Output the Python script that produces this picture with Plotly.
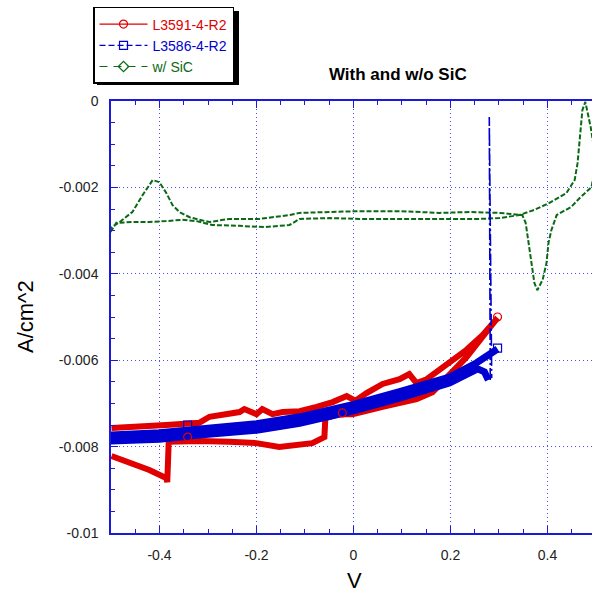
import plotly.graph_objects as go

# ---------------- data ----------------
# L3591-4-R2 (red), one continuous sweep
red_v = [-0.499, -0.462, -0.421, -0.386, -0.384, -0.381,
         -0.318, -0.256, -0.200, -0.153, -0.122, -0.085, -0.060, -0.058,
         -0.029, -0.002, 0.060, 0.130, 0.163, 0.198, 0.233, 0.266, 0.297,
         0.266, 0.233, 0.198, 0.163, 0.151, 0.130, 0.115, 0.095, 0.060, 0.027,
         0.004, -0.014, -0.043, -0.076, -0.111, -0.146, -0.167, -0.188, -0.200,
         -0.225, -0.235, -0.297, -0.318, -0.386, -0.421, -0.499]
red_j = [-0.00822, -0.00838, -0.00854, -0.00873, -0.00882, -0.00789,
         -0.00787, -0.00789, -0.00792, -0.00801, -0.00796, -0.00792, -0.00778, -0.00734,
         -0.00725, -0.00725, -0.00708, -0.00690, -0.00674, -0.00634, -0.00593, -0.00546, -0.00502,
         -0.00542, -0.00576, -0.00606, -0.00637, -0.00644, -0.00653, -0.00632, -0.00644, -0.00655, -0.00676,
         -0.00694, -0.00683, -0.00697, -0.00708, -0.00718, -0.00720, -0.00725, -0.00713, -0.00725,
         -0.00713, -0.00720, -0.00731, -0.00745, -0.00750, -0.00752, -0.00757]
red_mark_v = [-0.342, -0.023, 0.297]
red_mark_j = [-0.00778, -0.00722, -0.00500]

# L3586-4-R2 (blue): spike near 0.28 V, then the sweep band
blue_spike_v = [0.282, 0.280, 0.285]
blue_spike_j = [-0.00646, -0.00037, -0.00641]
blue_v = [0.278, 0.270, 0.256, 0.247,
          0.198, 0.095, -0.002, -0.111, -0.200, -0.318, -0.400, -0.499,
          -0.499, -0.400, -0.318, -0.200, -0.111, -0.002, 0.095, 0.198, 0.254, 0.280, 0.297]
blue_j = [-0.00646, -0.00627, -0.00620, -0.00625,
          -0.00653, -0.00688, -0.00718, -0.00746, -0.00762, -0.00773, -0.00783, -0.00787,
          -0.00773, -0.00768, -0.00759, -0.00747, -0.00731, -0.00703, -0.00673, -0.00639, -0.00606, -0.00586, -0.00574]
blue_mark_v = [-0.342, 0.297]
blue_mark_j = [-0.00750, -0.00572]

# w/ SiC (green)
green_v = [-0.501, -0.489, -0.456, -0.421, -0.386, -0.353, -0.324, -0.291, -0.235, -0.184,
           -0.132, -0.111, -0.049, 0.012, 0.095, 0.157, 0.198, 0.260, 0.301, 0.342,
           0.373, 0.404, 0.439, 0.456, 0.462, 0.466, 0.472, 0.478, 0.482, 0.489, 0.500,
           0.491, 0.466, 0.449, 0.419, 0.408, 0.402, 0.398, 0.390, 0.379, 0.373,
           0.367, 0.359, 0.355, 0.348, 0.301, 0.239, 0.177, 0.095, 0.012, -0.049,
           -0.111, -0.132, -0.194, -0.256, -0.297, -0.318, -0.338, -0.359, -0.373, -0.386,
           -0.400, -0.414, -0.435, -0.456, -0.482, -0.501]
green_j = [-0.00303, -0.00282, -0.00280, -0.00280, -0.00278, -0.00275, -0.00278, -0.00287, -0.00289, -0.00292,
           -0.00287, -0.00273, -0.00271, -0.00273, -0.00273, -0.00273, -0.00273, -0.00273, -0.00271, -0.00264,
           -0.00252, -0.00236, -0.00213, -0.00183, -0.00144, -0.00090, -0.00021, -0.00002, -0.00021, -0.00060, -0.00137,
           -0.00199, -0.00225, -0.00245, -0.00264, -0.00299, -0.00329, -0.00375, -0.00414, -0.00438, -0.00421,
           -0.00375, -0.00315, -0.00282, -0.00264, -0.00259, -0.00257, -0.00259, -0.00255, -0.00255, -0.00257,
           -0.00259, -0.00264, -0.00273, -0.00273, -0.00280, -0.00275, -0.00269, -0.00257, -0.00241, -0.00213,
           -0.00188, -0.00183, -0.00218, -0.00257, -0.00280, -0.00294]

x_tick_vals = [-0.4, -0.2, 0, 0.2, 0.4]
x_tick_text = ["-0.4", "-0.2", "0", "0.2", "0.4"]
y_tick_vals = [0, -0.002, -0.004, -0.006, -0.008, -0.01]
y_tick_text = ["0", "-0.002", "-0.004", "-0.006", "-0.008", "-0.01"]

series_names = ["L3591-4-R2", "L3586-4-R2", "w/ SiC"]

RED = "#e00000"
BLUE = "#0000d0"
GREEN = "#0a6a14"
FONT = "Liberation Sans, Arial, sans-serif"

fig = go.Figure()

fig.add_trace(go.Scatter(x=green_v, y=green_j, mode="lines", showlegend=False,
                         line=dict(color=GREEN, width=2, dash="5px,2px")))
fig.add_trace(go.Scatter(x=red_v, y=red_j, mode="lines", showlegend=False,
                         line=dict(color=RED, width=6)))
fig.add_trace(go.Scatter(x=blue_v, y=blue_j, mode="lines", showlegend=False,
                         line=dict(color=BLUE, width=7)))
fig.add_trace(go.Scatter(x=blue_spike_v, y=blue_spike_j, mode="lines", showlegend=False,
                         line=dict(color=BLUE, width=1.6, dash="12px,3px,2px,3px")))
fig.add_trace(go.Scatter(x=red_mark_v, y=red_mark_j, mode="markers", showlegend=False,
                         marker=dict(symbol="circle-open", size=8, color=RED, line=dict(width=1.2))))
fig.add_trace(go.Scatter(x=blue_mark_v, y=blue_mark_j, mode="markers", showlegend=False,
                         marker=dict(symbol="square-open", size=8, color=BLUE, line=dict(width=1.2))))

# legend entries
leg_styles = [
    (RED, "solid", "circle-open"),
    (BLUE, "6px,3px", "square-open"),
    (GREEN, "8px,6px", "diamond-open"),
]
for name, (col, dash, sym) in zip(series_names, leg_styles):
    fig.add_trace(go.Scatter(
        x=[None], y=[None], mode="lines+markers",
        name=f"<span style='color:{col}'>{name}</span>",
        line=dict(color=col, width=1.2, dash=dash),
        marker=dict(symbol=sym, size=8, color=col, line=dict(width=1.2, color=col)),
    ))

axis_blue = "#1a1ad8"
grid_blue = "#4a4aff"

fig.update_layout(
    width=592, height=594,
    margin=dict(l=111, r=0, t=101, b=61),
    paper_bgcolor="white", plot_bgcolor="white",
    font=dict(family=FONT, size=14, color="#222"),
    title=dict(text="<b>With and w/o SiC</b>", x=353 / 592, xref="paper", xanchor="center",
               y=1 - 74 / 594, yref="container", yanchor="middle",
               font=dict(family=FONT, size=17, color="black")),
    showlegend=True,
    legend=dict(x=-0.0374, y=1.2176, xanchor="left", yanchor="top",
                bgcolor="white", bordercolor="black", borderwidth=1.5,
                itemwidth=48,
                font=dict(family=FONT, size=14), tracegroupgap=0),
    xaxis=dict(range=[-0.5, 0.4918], tickmode="array", tickvals=x_tick_vals, ticktext=x_tick_text,
               ticks="inside", ticklen=7, tickcolor=axis_blue, tickwidth=1,
               showline=True, linecolor=axis_blue, linewidth=1.5, mirror="ticks",
               showgrid=True, gridcolor=grid_blue, griddash="1px,3px", gridwidth=1,
               zeroline=False, ticklabelstandoff=8,
               minor=dict(dtick=0.05, tick0=0, ticks="inside", ticklen=4, tickcolor=axis_blue, showgrid=False),
               tickfont=dict(family=FONT, size=14, color="#222")),
    yaxis=dict(range=[-0.01, 0], tickmode="array", tickvals=y_tick_vals, ticktext=y_tick_text,
               ticks="inside", ticklen=7, tickcolor=axis_blue, tickwidth=1,
               showline=True, linecolor=axis_blue, linewidth=1.5, mirror=False,
               showgrid=True, gridcolor=grid_blue, griddash="1px,3px", gridwidth=1,
               zeroline=False, ticklabelstandoff=8,
               minor=dict(dtick=0.0005, tick0=0, ticks="inside", ticklen=4, tickcolor=axis_blue, showgrid=False),
               tickfont=dict(family=FONT, size=14, color="#222")),
    annotations=[
        dict(text="A/cm^2", xref="paper", yref="paper", x=-111 / 481 + 25 / 481, y=(533 - 317) / 432,
             textangle=-90, showarrow=False, xanchor="center", yanchor="middle",
             font=dict(family=FONT, size=22, color="black")),
        dict(text="V", xref="paper", yref="paper", x=(354 - 111) / 481, y=-(580 - 533) / 432,
             showarrow=False, xanchor="center", yanchor="middle",
             font=dict(family=FONT, size=22, color="black")),
    ],
    shapes=[
        dict(type="rect", xref="paper", yref="paper", layer="below",
             x0=(97 - 111) / 481, x1=(239 - 111) / 481,
             y0=(533 - 85) / 432, y1=(533 - 11) / 432,
             fillcolor="black", line=dict(width=0)),
    ],
)

fig.write_html("out.html", config={"displayModeBar": False},
               post_script="document.body.style.margin='0';document.body.style.overflow='hidden';")
